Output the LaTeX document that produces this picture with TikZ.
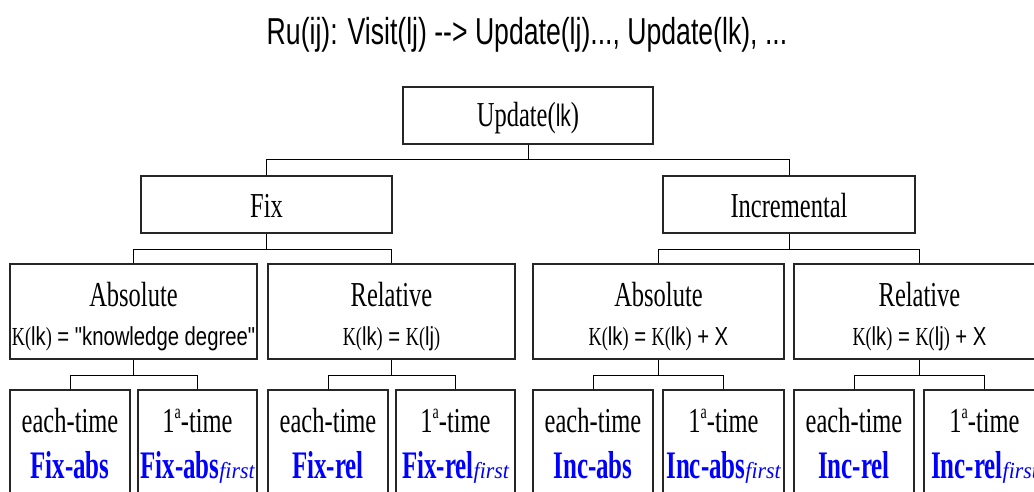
\documentclass[tikz,border=0pt]{standalone}
\usepackage{fontspec}
\newfontfamily\fSer[FakeStretch=0.70]{Liberation Serif}
\newfontfamily\fSerB[FakeStretch=0.64]{Liberation Serif}
\newfontfamily\fSerI[FakeStretch=0.95]{Liberation Serif}
\newfontfamily\fSans[FakeStretch=0.78]{Liberation Sans}
\newfontfamily\fSansU[FakeStretch=0.68]{Liberation Sans}
\newfontfamily\fTitle[FakeStretch=0.71]{Liberation Sans}
\newcommand\Kof[1]{{\fSer K(}{\fSans #1}{\fSer )}}
\newcommand\bigser{\fSer\fontsize{35}{40}\selectfont}
\newcommand\kline{\fontsize{26}{30}\selectfont}
\newcommand\firstA{\bigser 1\raisebox{14pt}{\fontsize{20}{22}\selectfont a}-time}
\newcommand\blu[2]{{\color{blue}\fSerB\bfseries\fontsize{39}{44}\selectfont #1}{\color{blue}\fSerI\itshape\fontsize{23}{26}\selectfont #2}}
\tikzset{
  box/.style={draw=black!85, line width=1.2pt, rectangle, inner sep=0pt, fill=white},
  conn/.style={draw=black, line width=1pt},
  txt/.style={anchor=base, inner sep=0pt, outer sep=0pt}
}
\begin{document}
\begin{tikzpicture}[x=1pt,y=-1pt]
\useasboundingbox (0,0) rectangle (1034,492);
\clip (0,0) rectangle (1034,492);
\fill[white] (0,0) rectangle (1034,492);
% title
\node[txt] (title) at (527,45) {\fTitle\fontsize{37.5}{42}\selectfont Ru(ij): Visit(lj) -{}-> Update(lj)..., Update(lk), ...};
% boxes
\node[box, minimum width=250pt, minimum height=57pt] (upd) at (528,115.5) {};
\node[box, minimum width=251pt, minimum height=57pt] (fix) at (266.5,204.5) {};
\node[box, minimum width=252pt, minimum height=57pt] (inc) at (789,204.5) {};
\node[box, minimum width=247pt, minimum height=95pt] (fa) at (133.5,311.5) {};
\node[box, minimum width=247pt, minimum height=95pt] (fr) at (391.5,311.5) {};
\node[box, minimum width=251pt, minimum height=95pt] (ia) at (658.5,311.5) {};
\node[box, minimum width=251pt, minimum height=95pt] (ir) at (919.5,311.5) {};
\node[box, minimum width=120pt, minimum height=140pt] (fae) at (70,460) {};
\node[box, minimum width=119pt, minimum height=140pt] (faf) at (197.5,460) {};
\node[box, minimum width=120pt, minimum height=140pt] (fre) at (328,460) {};
\node[box, minimum width=119pt, minimum height=140pt] (frf) at (455.5,460) {};
\node[box, minimum width=120pt, minimum height=140pt] (iae) at (593,460) {};
\node[box, minimum width=121pt, minimum height=140pt] (iaf) at (723.5,460) {};
\node[box, minimum width=120pt, minimum height=140pt] (ire) at (854,460) {};
\node[box, minimum width=121pt, minimum height=140pt] (irf) at (984.5,460) {};
% connectors
\draw[conn] (upd.south) -- (upd.south |- 0,160);
\draw[conn] (fix.north) -- (fix.north |- 0,160) -- (inc.north |- 0,160) -- (inc.north);
\draw[conn] (fix.south) -- (fix.south |- 0,249);
\draw[conn] (fa.north) -- (fa.north |- 0,249) -- (fr.north |- 0,249) -- (fr.north);
\draw[conn] (inc.south) -- (inc.south |- 0,249);
\draw[conn] (ia.north) -- (ia.north |- 0,249) -- (ir.north |- 0,249) -- (ir.north);
\draw[conn] (fa.south) -- (fa.south |- 0,375);
\draw[conn] (fae.north) -- (fae.north |- 0,375) -- (faf.north |- 0,375) -- (faf.north);
\draw[conn] (fr.south) -- (fr.south |- 0,375);
\draw[conn] (fre.north) -- (fre.north |- 0,375) -- (frf.north |- 0,375) -- (frf.north);
\draw[conn] (ia.south) -- (ia.south |- 0,375);
\draw[conn] (iae.north) -- (iae.north |- 0,375) -- (iaf.north |- 0,375) -- (iaf.north);
\draw[conn] (ir.south) -- (ir.south |- 0,375);
\draw[conn] (ire.north) -- (ire.north |- 0,375) -- (irf.north |- 0,375) -- (irf.north);
% texts level 1-2
\node[txt] (tupd) at (528,127) {\bigser Update({\fSansU\fontsize{31}{34}\selectfont lk})};
\node[txt] (tfix) at (266.5,217) {\bigser Fix};
\node[txt] (tinc) at (789,217) {\bigser Incremental};
% level 3
\node[txt] (tfa1) at (133.5,306) {\bigser Absolute};
\node[txt] (tfa2) at (133.5,345) {\kline\Kof{lk}{\fSans\ = "knowledge degree"}};
\node[txt] (tfr1) at (391.5,306) {\bigser Relative};
\node[txt] (tfr2) at (391.5,345) {\kline\Kof{lk}{\fSans\ = }\Kof{lj}};
\node[txt] (tia1) at (658.5,306) {\bigser Absolute};
\node[txt] (tia2) at (658.5,345) {\kline\Kof{lk}{\fSans\ = }\Kof{lk}{\fSans\ + X}};
\node[txt] (tir1) at (919.5,306) {\bigser Relative};
\node[txt] (tir2) at (919.5,345) {\kline\Kof{lk}{\fSans\ = }\Kof{lj}{\fSans\ + X}};
% level 4
\node[txt] (tfae1) at (70,432) {\bigser each-time};
\node[txt] (tfae2) at (70,478) {\blu{Fix-abs}{}};
\node[txt] (tfaf1) at (197.5,432) {\firstA};
\node[txt] (tfaf2) at (197.5,478) {\blu{Fix-abs}{first}};
\node[txt] (tfre1) at (328,432) {\bigser each-time};
\node[txt] (tfre2) at (328,478) {\blu{Fix-rel}{}};
\node[txt] (tfrf1) at (455.5,432) {\firstA};
\node[txt] (tfrf2) at (455.5,478) {\blu{Fix-rel}{first}};
\node[txt] (tiae1) at (593,432) {\bigser each-time};
\node[txt] (tiae2) at (593,478) {\blu{Inc-abs}{}};
\node[txt] (tiaf1) at (723.5,432) {\firstA};
\node[txt] (tiaf2) at (723.5,478) {\blu{Inc-abs}{first}};
\node[txt] (tire1) at (854,432) {\bigser each-time};
\node[txt] (tire2) at (854,478) {\blu{Inc-rel}{}};
\node[txt] (tirf1) at (984.5,432) {\firstA};
\node[txt] (tirf2) at (984.5,478) {\blu{Inc-rel}{first}};
\end{tikzpicture}
\end{document}
